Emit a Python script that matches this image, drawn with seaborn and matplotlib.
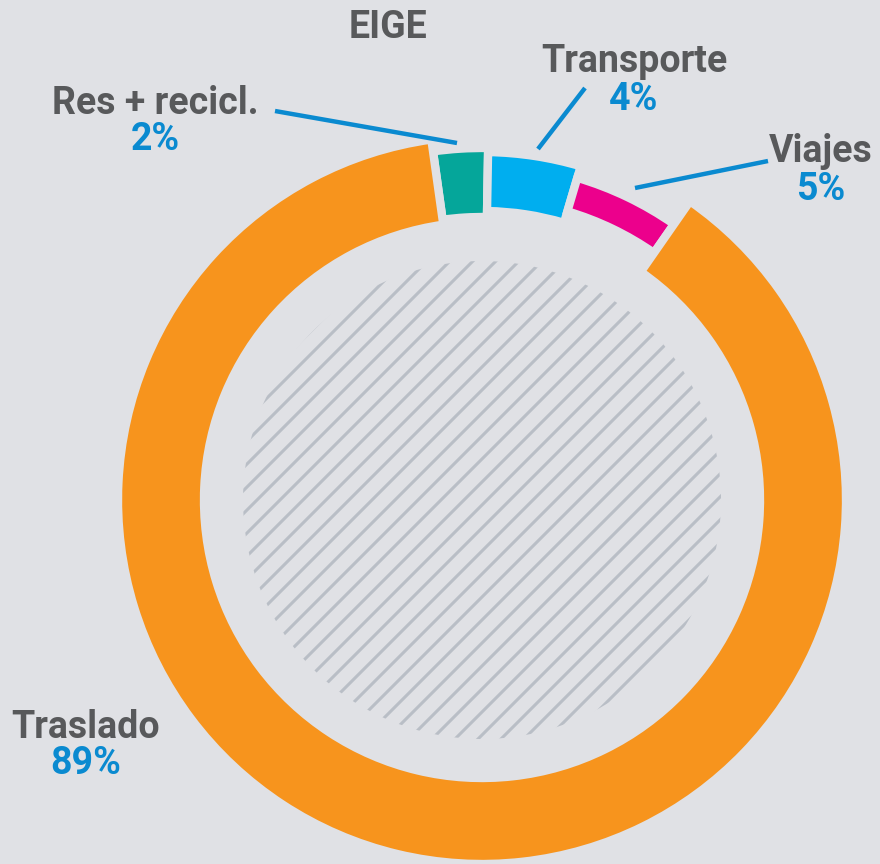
import numpy as np
import matplotlib
matplotlib.use('Agg')
import matplotlib.pyplot as plt
import seaborn as sns
from matplotlib.patches import Circle

# --- data ---
labels = ['Res + recicl.', 'Transporte', 'Viajes', 'Traslado']
pct_text = ['2%', '4%', '5%', '89%']
# arc sizes as measured on the chart (percent of the full circle)
arc_shares = [2.5, 4.3, 5.1, 88.1]
title = 'EIGE'

# --- style ---
BG = '#e0e1e5'
COLORS = ['#05a69a', '#00aeef', '#ec008c', '#f7941d']
TEXT = '#58595b'
ACCENT = '#0a8ad0'
HATCH = '#b9bec6'

sns.set_theme(style='white', rc={'figure.facecolor': BG, 'axes.facecolor': BG})
plt.rcParams['font.family'] = ['Roboto', 'DejaVu Sans']

W, H = 880, 864
fig = plt.figure(figsize=(W / 100, H / 100), dpi=100)
ax = fig.add_axes([0, 0, 1, 1])

# pixel-like coordinates (y measured from the bottom)
CX, CY = 482, H - 500
# each ring piece has its own thickness (inner, outer radius)
RINGS = [(283, 352), (289, 348), (301, 336), (278, 364)]

start = 90 + 8
wedges, _ = ax.pie(arc_shares, colors=COLORS, startangle=start, counterclock=False,
                   radius=364, center=(CX, CY), frame=True,
                   wedgeprops=dict(edgecolor=BG, linewidth=6))
for w, (r_in, r_out) in zip(wedges, RINGS):
    w.set_radius(r_out)
    w.set_width(r_out - r_in)

# hatched inner disc
R_HATCH = 239
disc = Circle((CX, CY), R_HATCH, facecolor='none', edgecolor='none')
ax.add_patch(disc)
step = 23
for off in np.arange(-2 * R_HATCH, 2 * R_HATCH + step, step):
    ln, = ax.plot([CX + off - R_HATCH * 2, CX + off + R_HATCH * 2],
                  [CY - R_HATCH * 2, CY + R_HATCH * 2],
                  color=HATCH, lw=2.2, solid_capstyle='butt')
    ln.set_clip_path(disc)

# labels: name + percent, and leader lines
label_pos = [(155, 103), (634, 62), (821, 152), (86, 727)]
pct_gap = 37
leaders = [((275, 111), (457, 143)), ((585, 88), (538, 149)),
           ((768, 161), (635, 188)), None]
FS = 27
for name, pct, (x, y), lead in zip(labels, pct_text, label_pos, leaders):
    ax.text(x, H - y, name, ha='center', va='center', fontsize=FS,
            fontweight='bold', color=TEXT)
    ax.text(x, H - y - pct_gap, pct, ha='center', va='center', fontsize=FS,
            fontweight='bold', color=ACCENT)
    if lead is not None:
        (x0, y0), (x1, y1) = lead
        ax.plot([x0, x1], [H - y0, H - y1], color=ACCENT, lw=3.2,
                solid_capstyle='butt')

ax.text(388, H - 28, title, ha='center', va='center', fontsize=FS,
        fontweight='bold', color=TEXT)

ax.set_xlim(0, W)
ax.set_ylim(0, H)
ax.set_aspect('equal')
ax.axis('off')

fig.savefig('out.png', dpi=100, facecolor=BG)
